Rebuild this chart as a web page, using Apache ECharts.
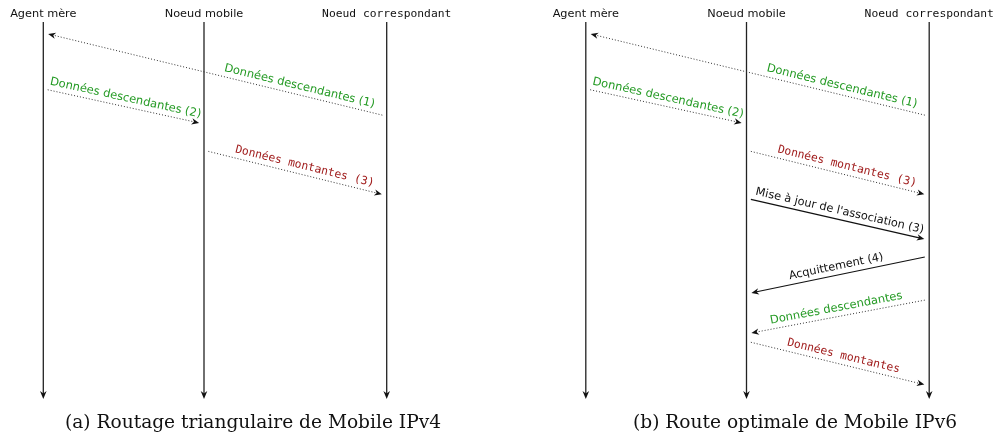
<!DOCTYPE html>
<html>
<head>
<meta charset="utf-8">
<script src="https://cdn.jsdelivr.net/npm/echarts@6/dist/echarts.min.js"></script>
<style>
html,body{margin:0;padding:0;background:#fff;}
#chart{width:994px;height:437px;}
</style>
</head>
<body>
<div id="chart"></div>
<script>
// Lanes (participants) and their positions along the horizontal axis
const laneNames = ['Agent mère', 'Noeud mobile', 'Noeud correspondant'];
const lanePos = [0, 160.7, 343.4];
const timeEnd = 377;

// Panel captions
const captions = ['(a) Routage triangulaire de Mobile IPv4', '(b) Route optimale de Mobile IPv6'];

// Messages, panel (a): [fromLane, fromTime, toLane, toTime]
const msgsA = [
  [2, 94.2, 0, 10.8],
  [0, 66.8, 1, 102],
  [1, 128.3, 2, 173.5]
];
const labelsA = ['Données descendantes (1)', 'Données descendantes (2)', 'Données montantes (3)'];
const kindsA = ['down', 'down', 'up'];
const labelFracA = [0.26, 0.5, 0.54];

// Messages, panel (b)
const msgsB = [
  [2, 94.2, 0, 10.8],
  [0, 66.8, 1, 102],
  [1, 128.3, 2, 173.5],
  [1, 176.3, 2, 218.1],
  [2, 234.1, 1, 271.9],
  [2, 277.3, 1, 311.9],
  [1, 319.2, 2, 363.8]
];
const labelsB = ['Données descendantes (1)', 'Données descendantes (2)', 'Données montantes (3)',
  "Mise à jour de l'association (3)", 'Acquittement (4)', 'Données descendantes', 'Données montantes'];
const kindsB = ['down', 'down', 'up', 'ctrl', 'ctrl', 'down', 'up'];
const labelFracB = [0.26, 0.5, 0.54, 0.5, 0.5, 0.5, 0.52];

const kindStyle = {
  down: {color: '#239a23', font: '11.5px "DejaVu Sans"', dash: [1, 2]},
  up:   {color: '#a01c1c', font: '11.3px "DejaVu Sans Mono"', dash: [1, 2]},
  ctrl: {color: '#111', font: '11.3px "DejaVu Sans"', dash: null}
};

function arrowHead(tip, ux, uy, len, hw, color) {
  const bx = tip[0] - ux * len, by = tip[1] - uy * len;
  const nx = -uy, ny = ux;
  return {
    type: 'polygon',
    shape: {points: [tip, [bx + nx * hw, by + ny * hw], [tip[0] - ux * len * 0.7, tip[1] - uy * len * 0.7], [bx - nx * hw, by - ny * hw]]},
    style: {fill: color}
  };
}

function makeMsgRender(labels, kinds, fracs) {
  return function (params, api) {
    const i = params.dataIndex;
    const a = api.coord([api.value(0), api.value(1)]);
    const b = api.coord([api.value(2), api.value(3)]);
    let dx = b[0] - a[0], dy = b[1] - a[1];
    const len = Math.sqrt(dx * dx + dy * dy);
    const ux = dx / len, uy = dy / len;
    const gs = 4.5, ge = 5;
    const s = [a[0] + ux * gs, a[1] + uy * gs];
    const e = [b[0] - ux * ge, b[1] - uy * ge];
    const st = kindStyle[kinds[i]];
    const children = [];
    children.push({
      type: 'line',
      shape: {x1: s[0], y1: s[1], x2: e[0] - ux * 3, y2: e[1] - uy * 3},
      style: {stroke: st.dash ? '#333' : '#111', lineWidth: st.dash ? 1 : 1.2, lineDash: st.dash}
    });
    children.push(arrowHead(e, ux, uy, 7.5, 3.2, '#111'));
    // label
    let rx = dx, ry = dy;
    if (rx < 0) { rx = -rx; ry = -ry; }
    const rl = Math.sqrt(rx * rx + ry * ry);
    const nx = ry / rl, ny = -rx / rl;
    const f = fracs[i];
    const px = a[0] + dx * f + nx * 8.5;
    const py = a[1] + dy * f + ny * 8.5;
    children.push({
      type: 'text',
      x: px, y: py,
      rotation: -Math.atan2(ry, rx),
      style: {text: labels[i], fill: st.color, font: st.font, align: 'center', verticalAlign: 'middle'}
    });
    return {type: 'group', children: children};
  };
}

function laneRender(params, api) {
  const i = params.dataIndex;
  const top = api.coord([api.value(0), 0]);
  const bot = api.coord([api.value(0), timeEnd]);
  return {
    type: 'group',
    children: [
      {type: 'line', shape: {x1: top[0], y1: top[1], x2: bot[0], y2: bot[1] - 4},
        style: {stroke: '#222', lineWidth: 1.3}},
      arrowHead(bot, 0, 1, 8, 3.3, '#111'),
      {type: 'text', x: top[0], y: top[1] - 8,
        style: {text: laneNames[i], fill: '#111',
          font: (i === 2 ? '11.3px "DejaVu Sans Mono"' : '11.3px "DejaVu Sans"'),
          align: 'center', verticalAlign: 'middle'}}
    ]
  };
}

const laneData = lanePos.map(p => [p]);
const panelLeft = [43.3, 585.8];
const captionX = [253, 795];

const chart = echarts.init(document.getElementById('chart'), null, {renderer: 'canvas'});
const option = {
  animation: false,
  backgroundColor: '#fff',
  grid: panelLeft.map(l => ({left: l, top: 22, width: 343.4, height: 377})),
  xAxis: [0, 1].map(k => ({type: 'value', gridIndex: k, min: 0, max: 343.4, show: false})),
  yAxis: [0, 1].map(k => ({type: 'value', gridIndex: k, min: 0, max: timeEnd, inverse: true, show: false})),
  graphic: captions.map((c, k) => ({
    type: 'text', x: captionX[k], y: 423,
    style: {text: c, fill: '#111', font: '18.6px "DejaVu Serif"', align: 'center', verticalAlign: 'middle',
      textAlign: 'center', textVerticalAlign: 'middle'}
  })),
  series: [
    {type: 'custom', xAxisIndex: 0, yAxisIndex: 0, data: laneData, renderItem: laneRender, silent: true},
    {type: 'custom', xAxisIndex: 1, yAxisIndex: 1, data: laneData, renderItem: laneRender, silent: true},
    {type: 'custom', xAxisIndex: 0, yAxisIndex: 0, silent: true,
      data: msgsA.map(m => [lanePos[m[0]], m[1], lanePos[m[2]], m[3]]),
      encode: {x: [0, 2], y: [1, 3]},
      renderItem: makeMsgRender(labelsA, kindsA, labelFracA)},
    {type: 'custom', xAxisIndex: 1, yAxisIndex: 1, silent: true,
      data: msgsB.map(m => [lanePos[m[0]], m[1], lanePos[m[2]], m[3]]),
      encode: {x: [0, 2], y: [1, 3]},
      renderItem: makeMsgRender(labelsB, kindsB, labelFracB)}
  ]
};
chart.setOption(option);
</script>
</body>
</html>
